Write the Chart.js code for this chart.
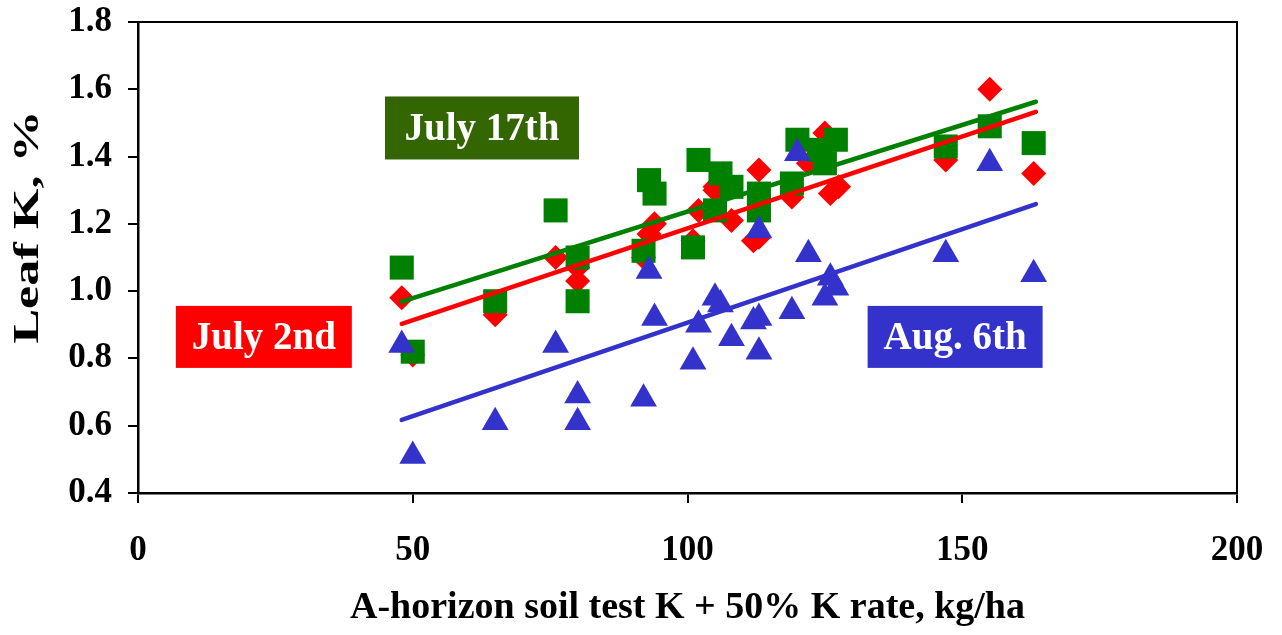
<!DOCTYPE html>
<html>
<head>
<meta charset="utf-8">
<script src="https://cdn.jsdelivr.net/npm/chart.js@4"></script>
<style>
  html, body { margin: 0; padding: 0; background: #fff; }
  #wrap { width: 1282px; height: 635px; position: relative; }
</style>
</head>
<body>
<div id="wrap"><canvas id="leafChart"></canvas></div>
<script>
// ===== DATA =====
// July 2nd (red diamonds)
const xJuly2 = [48, 50, 65, 76, 80, 80, 92, 93, 94, 101, 102, 105, 105, 108, 112, 113, 113, 119, 122, 125, 126, 127.5, 147, 155, 163];
const yJuly2 = [0.98, 0.81, 0.93, 1.10, 1.07, 1.03, 1.10, 1.17, 1.20, 1.15, 1.24, 1.30, 1.31, 1.21, 1.15, 1.16, 1.36, 1.28, 1.38, 1.47, 1.29, 1.31, 1.39, 1.60, 1.35];

// July 17th (green squares)
const xJuly17 = [48, 50, 65, 76, 80, 80, 92, 93, 94, 101, 102, 105, 106, 108, 113, 113, 119, 120, 124, 125, 127, 147, 155, 163];
const yJuly17 = [1.07, 0.82, 0.97, 1.24, 1.10, 0.97, 1.12, 1.33, 1.29, 1.13, 1.39, 1.24, 1.35, 1.31, 1.29, 1.24, 1.32, 1.45, 1.42, 1.38, 1.45, 1.43, 1.49, 1.44];

// Aug. 6th (blue triangles)
const xAug6 = [48, 50, 65, 76, 80, 80, 92, 93, 94, 101, 102, 105, 106, 108, 112, 113, 113, 113, 119, 120, 122, 125, 126, 127, 147, 155, 163];
const yAug6 = [0.84, 0.51, 0.61, 0.84, 0.69, 0.61, 0.68, 1.06, 0.92, 0.79, 0.90, 0.98, 0.96, 0.86, 0.91, 0.92, 0.82, 1.18, 0.94, 1.41, 1.11, 0.98, 1.04, 1.01, 1.11, 1.38, 1.05];

// trend lines (ends)
const trendX = [48, 163.4];
const trendJuly2 = [0.903, 1.533];
const trendJuly17 = [0.969, 1.563];
const trendAug6 = [0.617, 1.259];

// axis ticks
const xTicks = [0, 50, 100, 150, 200];
const yTicks = [0.4, 0.6, 0.8, 1.0, 1.2, 1.4, 1.6, 1.8];

const RED = "#ff0000";
const GREEN = "#008000";
const BLUE = "#3333cc";
const SERIF = "'Liberation Serif', 'Times New Roman', serif";

function pts(xs, ys) {
    return xs.map((x, i) => ({ x: x, y: ys[i] }));
}

// ===== LABEL BOXES =====
const labelBoxes = [
    { text: "July 17th", x: 62.6, y: 1.485, w: 194, h: 63, bg: "#336600" },
    { text: "July 2nd", x: 22.9, y: 0.864, w: 176, h: 62, bg: "#ff0000" },
    { text: "Aug. 6th", x: 148.7, y: 0.864, w: 175, h: 62, bg: "#3333cc" }
];

const boxPlugin = {
    id: "boxes",
    afterDraw(chart) {
        const ctx = chart.ctx;
        const a = chart.chartArea;
        const sx = chart.scales.x, sy = chart.scales.y;
        ctx.save();
        // top + right border of plot
        ctx.strokeStyle = "#000";
        ctx.lineWidth = 2;
        ctx.beginPath();
        ctx.moveTo(a.left, a.top);
        ctx.lineTo(a.right, a.top);
        ctx.lineTo(a.right, a.bottom);
        ctx.stroke();

        labelBoxes.forEach(b => {
            const cx = sx.getPixelForValue(b.x);
            const cy = sy.getPixelForValue(b.y);
            ctx.fillStyle = b.bg;
            ctx.fillRect(cx - b.w / 2, cy - b.h / 2, b.w, b.h);
            ctx.fillStyle = "#fff";
            ctx.font = "bold 39px " + SERIF;
            ctx.textAlign = "center";
            ctx.textBaseline = "middle";
            ctx.fillText(b.text, cx, cy + 2);
        });

        // y axis title (stretched along its baseline like the original)
        ctx.translate(29, 227);
        ctx.rotate(-Math.PI / 2);
        ctx.scale(1.45, 1);
        ctx.fillStyle = "#000";
        ctx.font = "bold 36px " + SERIF;
        ctx.textAlign = "center";
        ctx.textBaseline = "middle";
        ctx.fillText("Leaf K, %", 0, 0);
        ctx.restore();
    }
};

function trend(ys, color) {
    return {
        type: "scatter",
        data: pts(trendX, ys),
        showLine: true,
        borderColor: color,
        borderWidth: 4.5,
        borderCapStyle: "round",
        pointRadius: 0,
        order: 0
    };
}

function noPad(s) {
    s.paddingTop = 0;
    s.paddingBottom = 0;
    s.paddingLeft = 0;
    s.paddingRight = 0;
}

new Chart(document.getElementById("leafChart"), {
    type: "scatter",
    data: {
        datasets: [
            trend(trendAug6, BLUE),
            trend(trendJuly2, RED),
            trend(trendJuly17, GREEN),
            {
                label: "Aug. 6th",
                data: pts(xAug6, yAug6),
                pointStyle: "triangle",
                pointRadius: 15.5,
                backgroundColor: BLUE,
                borderColor: BLUE,
                borderWidth: 0,
                order: 1
            },
            {
                label: "July 17th",
                data: pts(xJuly17, yJuly17),
                pointStyle: "rect",
                pointRadius: 17,
                backgroundColor: GREEN,
                borderColor: GREEN,
                borderWidth: 0,
                order: 2
            },
            {
                label: "July 2nd",
                data: pts(xJuly2, yJuly2),
                pointStyle: "rectRot",
                pointRadius: 12.5,
                backgroundColor: RED,
                borderColor: RED,
                borderWidth: 0,
                order: 3
            }
        ]
    },
    options: {
        responsive: true,
        maintainAspectRatio: false,
        animation: false,
        layout: {
            autoPadding: false,
            padding: { top: 22, right: 45, bottom: 0, left: 0 }
        },
        plugins: {
            legend: { display: false },
            tooltip: { enabled: false }
        },
        scales: {
            x: {
                type: "linear",
                min: 0,
                max: 200,
                afterBuildTicks: s => { s.ticks = xTicks.map(v => ({ value: v })); },
                afterFit: s => { s.height = 142; noPad(s); },
                grid: { drawOnChartArea: false, tickLength: 10, color: "#000", lineWidth: 2 },
                border: { color: "#000", width: 2.5 },
                ticks: {
                    color: "#000",
                    padding: 27,
                    maxRotation: 0,
                    font: { family: SERIF, size: 35, weight: "bold" }
                },
                title: {
                    display: true,
                    text: "A-horizon soil test K + 50% K rate, kg/ha",
                    color: "#000",
                    padding: { top: 0, bottom: 4 },
                    font: { family: SERIF, size: 38, weight: "bold" }
                }
            },
            y: {
                min: 0.4,
                max: 1.8,
                afterBuildTicks: s => { s.ticks = yTicks.map(v => ({ value: v })); },
                afterFit: s => { s.width = 138; noPad(s); },
                grid: { drawOnChartArea: false, tickLength: 10, color: "#000", lineWidth: 2 },
                border: { color: "#000", width: 2.5 },
                ticks: {
                    color: "#000",
                    padding: 16,
                    callback: v => Number(v).toFixed(1),
                    font: { family: SERIF, size: 35, weight: "bold" }
                },
                title: { display: false }
            }
        }
    },
    plugins: [boxPlugin]
});
</script>
</body>
</html>
